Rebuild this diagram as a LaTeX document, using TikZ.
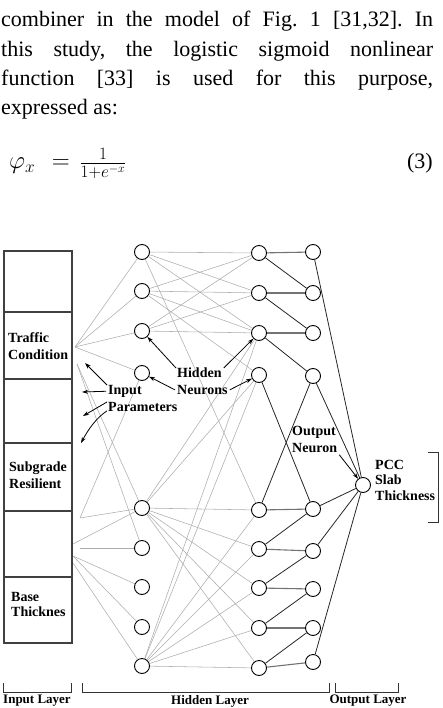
\documentclass[tikz,border=0pt]{standalone}
\usepackage{fontspec}
\setmainfont{Liberation Serif}
\usetikzlibrary{arrows.meta,backgrounds}
\frenchspacing
\begin{document}
\begin{tikzpicture}[x=1pt,y=-1pt,
  neuron/.style={circle,draw=black,line width=0.9pt,fill=white,minimum size=15pt,inner sep=0pt},
  wgt/.style={draw=black!32,line width=0.55pt},
  dk/.style={draw=black!85,line width=0.8pt},
  hz/.style={draw=black!55,line width=1.1pt},
  boxline/.style={draw=black!75,line width=1.3pt},
  lbl/.style={font=\fontsize{14}{16.5}\selectfont\bfseries,inner sep=0pt},
  ann/.style={-{Stealth[length=6pt,width=4pt]},line width=0.8pt},
  para/.style={font=\fontsize{22}{29}\selectfont,inner sep=0pt,anchor=base west},
  brk/.style={draw=black!80,line width=1pt}]
\useasboundingbox (0,0) rectangle (442,708);

% ---- text above
\node[para] (p1) at (1,27) {\makebox[432pt][s]{combiner in the model of Fig. 1 [31,32]. In}};
\node[para] (p2) at (1,57) {\makebox[432pt][s]{this study, the logistic sigmoid nonlinear}};
\node[para] (p3) at (1,86) {\makebox[432pt][s]{function [33] is used for this purpose,}};
\node[para] (p4) at (1,115) {expressed as:};
\node[para,font=\fontsize{26}{30}\selectfont] (eq) at (9,169) {$\varphi_x \mkern7mu= \mkern2mu\frac{1}{1+e^{-x}}$};
\node[para,anchor=base east] (eqn) at (433,169) {(3)};

% ---- input boxes
\draw[boxline] (4,251) rectangle (72,643);
\foreach \yy in {312,379,443,511,577} \draw[boxline] (4,\yy) -- (72,\yy);
\node[lbl,anchor=north west,align=left] (tc) at (8,332) {Traffic\\[0.5pt]Condition};
\node[lbl,anchor=north west,align=left] (sr) at (9,462) {Subgrade\\[0.5pt]Resilient};
\node[lbl,anchor=north west,align=left] (bt) at (11,592) {Base\\[-1pt]Thicknes};

% ---- neurons
\foreach \n/\yy in {1/252,2/291,3/331,4/373,5/508,6/548,7/587,8/627,9/666}
  \node[neuron] (a\n) at (142,\yy) {};
\foreach \n/\yy in {1/253,2/293,3/333,4/375,5/510,6/549,7/588,8/628,9/668}
  \node[neuron] (b\n) at (259,\yy) {};
\foreach \n/\yy in {1/252,2/293,3/333,4/376,5/509,6/551,7/589,8/628,9/662}
  \node[neuron] (c\n) at (313,\yy) {};
\node[neuron] (o) at (363,485) {};

% ---- connections
\begin{scope}[on background layer]
  \coordinate (F1) at (75,347);
  \coordinate (F2) at (77,364);
  \coordinate (F3) at (80,518);
  \coordinate (F4) at (80,548);
  \coordinate (F5) at (73,544);
  \coordinate (F6) at (73,556);
  \coordinate (F7) at (73,563);
  \foreach \t in {1,2,3,4} \draw[wgt] (F1) -- (a\t);
  \foreach \t in {5,6} \draw[wgt] (F2) -- (a\t);
  \foreach \t in {4,5} \draw[wgt] (F3) -- (a\t);
  \draw[wgt] (F4) -- (a6);
  \draw[wgt] (F5) -- (a5);
  \foreach \t in {7,8} \draw[wgt] (F6) -- (a\t);
  \draw[wgt] (F7) -- (a9);
  \foreach \t in {1,2,3,5} \draw[wgt] (a1) -- (b\t);
  \foreach \t in {1,2,3,4} \draw[wgt] (a2) -- (b\t);
  \foreach \t in {1,2,3} \draw[wgt] (a3) -- (b\t);
  \foreach \t in {3,4,5,6,7,8,9} \draw[wgt] (a5) -- (b\t);
  \foreach \t in {3,4,5,6,7,8,9} \draw[wgt] (a9) -- (b\t);
  % second to third hidden column
  \foreach \t in {1,2,3,5,6,7,8,9} \draw[hz] (b\t) -- (c\t);
  \draw[dk] (b1) -- (c2);
  \draw[dk] (b2) -- (c3);
  \draw[dk] (b3) -- (c4);
  \draw[dk] (b4) -- (c5);
  \draw[dk] (b5) -- (c4);
  \draw[dk] (b6) -- (c5);
  \draw[dk] (b7) -- (c6);
  \draw[dk] (b8) -- (c7);
  \draw[dk] (b9) -- (c8);
  \foreach \t in {1,4,5,6,9} \draw[dk] (c\t) -- (o);
\end{scope}

% ---- annotations
\node[lbl,anchor=north west] (inA) at (108,385) {Input};
\node[lbl,anchor=north west] (inB) at (108,402) {Parameters};
\coordinate (t1) at (85,363);
\coordinate (t2) at (82,392);
\coordinate (t3) at (83,416);
\coordinate (t4) at (81,443);
\draw[ann] ([xshift=-1pt]inA.north west) -- (t1);
\draw[ann] ([xshift=-2pt]inA.west) -- (t2);
\draw[ann] ([xshift=-1pt]inB.north west) -- (t3);
\draw[ann] ([xshift=-1pt,yshift=-4pt]inB.west) .. controls (96,418) and (88,430) .. (t4);

\node[lbl,anchor=north west] (hA) at (177,368) {Hidden};
\node[lbl,anchor=north west] (hB) at (177,385) {Neurons};
\draw[ann] ([xshift=-1pt]hA.north west) -- (a3);
\draw[ann] ([xshift=-2pt]hB.west) -- (a4);
\draw[ann] ([xshift=2pt]hA.north east) -- (b3);
\draw[ann] ([xshift=2pt]hB.east) -- (b4);

\node[lbl,anchor=north west] (oA) at (292,426) {Output};
\node[lbl,anchor=north west] (oB) at (292,443) {Neuron};
\draw[ann] ([xshift=2pt,yshift=-2pt]oB.south east) -- (o);

\node[lbl,anchor=north west,align=left] (pcc) at (375,460) {PCC\\[-1pt]Slab\\[-1pt]Thickness};
\draw[brk] (428,452) -- (438,452) -- (438,522) -- (428,522);

% ---- layer brackets
\draw[brk] (3,683) -- (3,692) -- (71,692) -- (71,683);
\draw[brk] (82,683) -- (82,692) -- (329,692) -- (329,683);
\draw[brk] (335,683) -- (335,692) -- (398,692) -- (398,683);
\node[lbl,font=\fontsize{13}{15}\selectfont\bfseries,anchor=north] (il) at (37,695) {Input Layer};
\node[lbl,font=\fontsize{13}{15}\selectfont\bfseries,anchor=north] (hl) at (210,695) {Hidden Layer};
\node[lbl,font=\fontsize{13}{15}\selectfont\bfseries,anchor=north] (ol) at (368,695) {Output Layer};
\end{tikzpicture}
\end{document}
